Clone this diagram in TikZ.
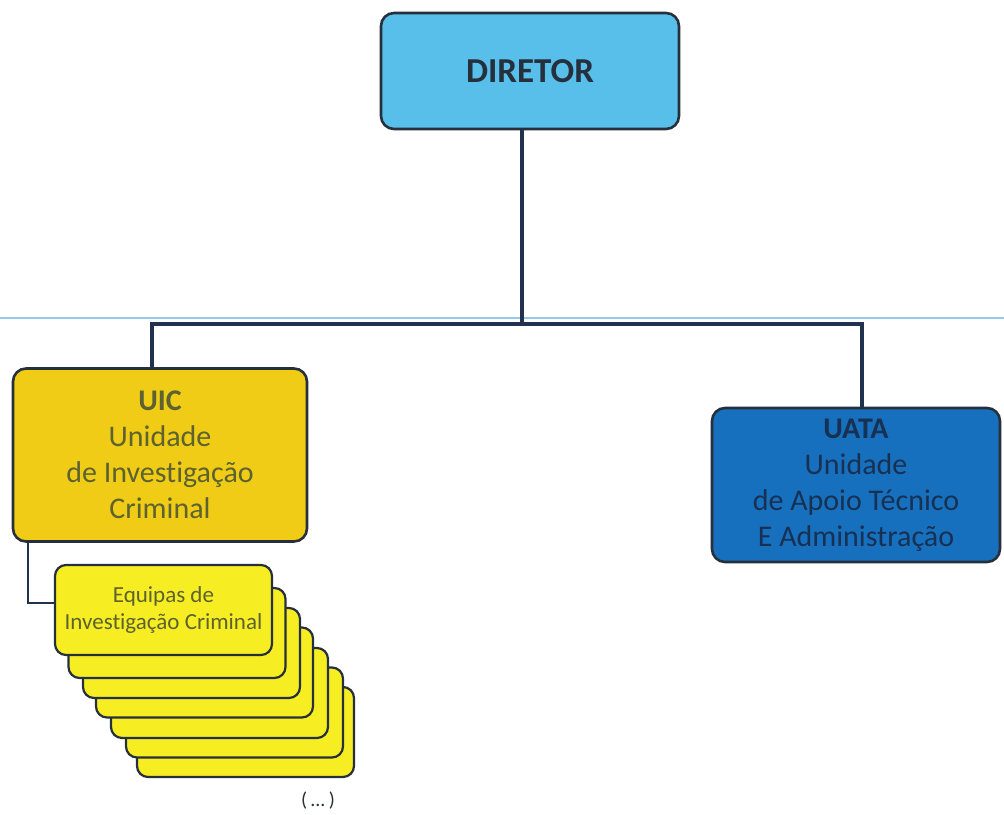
\documentclass[tikz,border=0pt]{standalone}
\usepackage{fontspec}
\setmainfont[Ligatures=NoCommon]{Carlito}
\definecolor{dirfill}{RGB}{88,190,234}
\definecolor{uicfill}{RGB}{240,204,22}
\definecolor{uatafill}{RGB}{22,112,190}
\definecolor{eqfill}{RGB}{246,238,34}
\definecolor{edge}{RGB}{38,48,60}
\definecolor{wire}{RGB}{32,50,78}
\definecolor{olive}{RGB}{92,98,48}
\definecolor{navy}{RGB}{24,48,82}
\definecolor{scanline}{RGB}{150,200,232}
\tikzset{
  box/.style={draw=edge, line width=2.6pt, rounded corners=13pt, rectangle, align=center, inner sep=0pt},
  eqbox/.style={draw=edge, line width=2.2pt, rounded corners=11pt, rectangle, fill=eqfill, minimum width=217pt, minimum height=90pt, align=center, inner sep=0pt},
  wirestyle/.style={draw=wire, line width=3.6pt},
  thinwire/.style={draw=wire, line width=1.8pt}
}
\begin{document}
\begin{tikzpicture}[x=1pt,y=-1pt]
\fill[white] (0,0) rectangle (1004,814);
\useasboundingbox (0,0) rectangle (1004,814);
\draw[scanline, line width=1.2pt] (0,318) -- (1004,318);
% nodes
\node[box, fill=dirfill, minimum width=298pt, minimum height=116pt, font=\fontsize{35}{40}\selectfont\bfseries, text=edge] (dir) at (530,71) {DIRETOR};
\node[box, fill=uicfill, minimum width=294pt, minimum height=173pt, font=\fontsize{30}{36}\selectfont, text=olive] (uic) at (160,455) {\textbf{UIC}\\Unidade\\de Investigação\\Criminal};
\node[box, fill=uatafill, minimum width=288pt, minimum height=154pt, font=\fontsize{30}{36}\selectfont, text=navy] (uata) at (856,485) {\textbf{UATA}\\Unidade\\de Apoio Técnico\\E Administração};
% stack of teams
\node[eqbox] (e7) at (245.5,732) {};
\node[eqbox] (e6) at (234.5,712.5) {};
\node[eqbox] (e5) at (219.5,693) {};
\node[eqbox] (e4) at (204.5,672.5) {};
\node[eqbox] (e3) at (191.5,653) {};
\node[eqbox] (e2) at (177,633) {};
\node[eqbox, font=\fontsize{23}{27}\selectfont, text=olive] (e1) at (163.5,610) {Equipas de\\Investigação Criminal};
\node[font=\fontsize{20}{24}\selectfont, text=edge] (etc) at (318,801) {(\,...\,)};
% connectors
\coordinate (j) at (522,324);
\coordinate (jl) at (152,324);
\coordinate (jr) at (862,324);
\coordinate (ek) at (28,603);
\draw[wirestyle] (dir.south -| j) -- (j);
\draw[wirestyle, line cap=rect] (jl) -- (jr);
\draw[wirestyle] (jl) -- (jl |- uic.north);
\draw[wirestyle] (jr) -- (jr |- uata.north);
\draw[thinwire] (ek |- uic.south) -- (ek) -- (ek -| e1.west);
\end{tikzpicture}
\end{document}
